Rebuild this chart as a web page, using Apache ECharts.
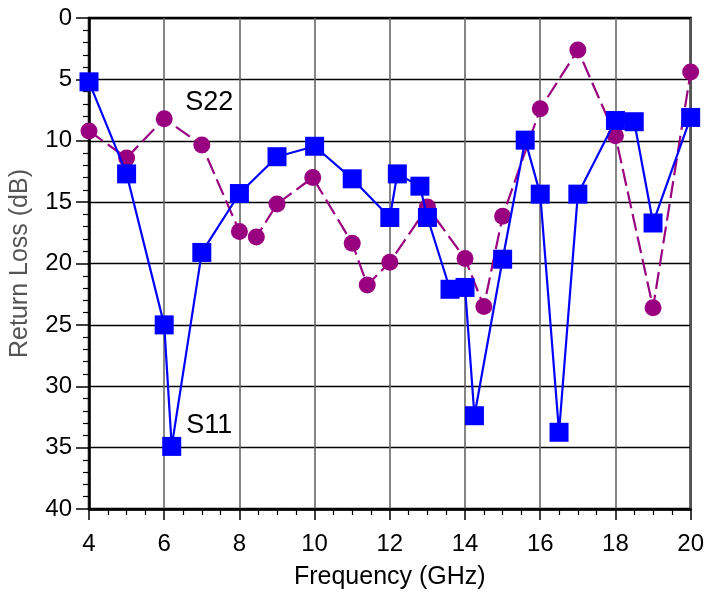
<!DOCTYPE html>
<html>
<head>
<meta charset="utf-8">
<script src="https://cdn.jsdelivr.net/npm/echarts@6/dist/echarts.min.js"></script>
<style>html,body{margin:0;padding:0;background:#fff}#c{width:707px;height:595px}</style>
</head>
<body>
<div id="c"></div>
<script>
// S11 (blue squares)
const s11Freq = [4, 5, 6, 6.2, 7, 8, 9, 10, 11, 12, 12.2, 12.8, 13, 13.6, 14, 14.25, 15, 15.6, 16, 16.5, 17, 18, 18.5, 19, 20];
const s11Loss = [5.2, 12.7, 25, 34.9, 19.1, 14.3, 11.3, 10.45, 13.1, 16.25, 12.7, 13.7, 16.25, 22.1, 21.95, 32.4, 19.65, 9.95, 14.35, 33.75, 14.35, 8.35, 8.45, 16.7, 8.1];
// S22 (purple circles)
const s22Freq = [4, 5, 6, 7, 8, 8.45, 9, 9.95, 11, 11.4, 12, 13, 14, 14.5, 15, 16, 17, 18, 19, 20];
const s22Loss = [9.2, 11.4, 8.2, 10.35, 17.4, 17.85, 15.15, 13.0, 18.35, 21.75, 19.9, 15.4, 19.6, 23.5, 16.15, 7.4, 2.6, 9.6, 23.6, 4.4];
// axis
const xTicks = [4, 6, 8, 10, 12, 14, 16, 18, 20];
const yTicks = [0, 5, 10, 15, 20, 25, 30, 35, 40];
const xTitle = 'Frequency (GHz)';
const yTitle = 'Return Loss (dB)';
const labels = [{name: 'S22', x: 7.2, y: 6.9}, {name: 'S11', x: 7.2, y: 33.2}];

const font = 'Liberation Sans, Arial, sans-serif';
const chart = echarts.init(document.getElementById('c'), null, {renderer: 'canvas'});
chart.setOption({
  animation: false,
  backgroundColor: '#fff',
  grid: {left: 86, right: 15, top: 18, bottom: 85, show: true, borderColor: '#000', borderWidth: 2.5, backgroundColor: 'transparent'},
  xAxis: {
    type: 'value', min: xTicks[0], max: xTicks[xTicks.length - 1], interval: 2,
    name: xTitle, nameLocation: 'middle', nameGap: 56,
    nameTextStyle: {fontSize: 25, fontFamily: font, color: '#000'},
    axisLine: {show: true, onZero: false, lineStyle: {color: '#000', width: 2.5}},
    axisTick: {show: true, inside: false, length: 11, lineStyle: {color: '#000', width: 1.5}},
    minorTick: {show: true, splitNumber: 4, length: 6, lineStyle: {color: '#000', width: 1.2}},
    splitLine: {show: true, lineStyle: {color: '#666', width: 1.6}},
    axisLabel: {fontSize: 24, fontFamily: font, color: '#000', margin: 23}
  },
  yAxis: {
    type: 'value', inverse: true, min: yTicks[0], max: yTicks[yTicks.length - 1], interval: 5,
    name: yTitle, nameLocation: 'middle', nameGap: 56,
    nameTextStyle: {fontSize: 25, fontFamily: font, color: '#555'},
    axisLine: {show: true, onZero: false, lineStyle: {color: '#000', width: 2.5}},
    axisTick: {show: true, inside: false, length: 13, lineStyle: {color: '#000', width: 1.5}},
    minorTick: {show: true, splitNumber: 5, length: 6, lineStyle: {color: '#000', width: 1.2}},
    splitLine: {show: true, lineStyle: {color: '#000', width: 1.3}},
    axisLabel: {fontSize: 24, fontFamily: font, color: '#000', margin: 17}
  },
  series: [
    {
      name: 'S22', type: 'line',
      data: s22Freq.map((f, i) => [f, s22Loss[i]]),
      symbol: 'circle', symbolSize: 17,
      itemStyle: {color: '#990080'},
      lineStyle: {color: '#990080', width: 2.2, type: [17, 6]},
      z: 3,
      markPoint: {
        symbol: 'rect', symbolSize: 1, itemStyle: {color: 'transparent'},
        label: {show: true, position: 'inside', formatter: p => p.name, fontSize: 27, fontFamily: font, color: '#000'},
        data: labels.map(l => ({name: l.name, coord: [l.x, l.y]}))
      }
    },
    {
      name: 'S11', type: 'line',
      data: s11Freq.map((f, i) => [f, s11Loss[i]]),
      symbol: 'rect', symbolSize: 19,
      itemStyle: {color: '#0000ff'},
      lineStyle: {color: '#0000ff', width: 2.2},
      z: 4
    }
  ]
});
</script>
</body>
</html>
